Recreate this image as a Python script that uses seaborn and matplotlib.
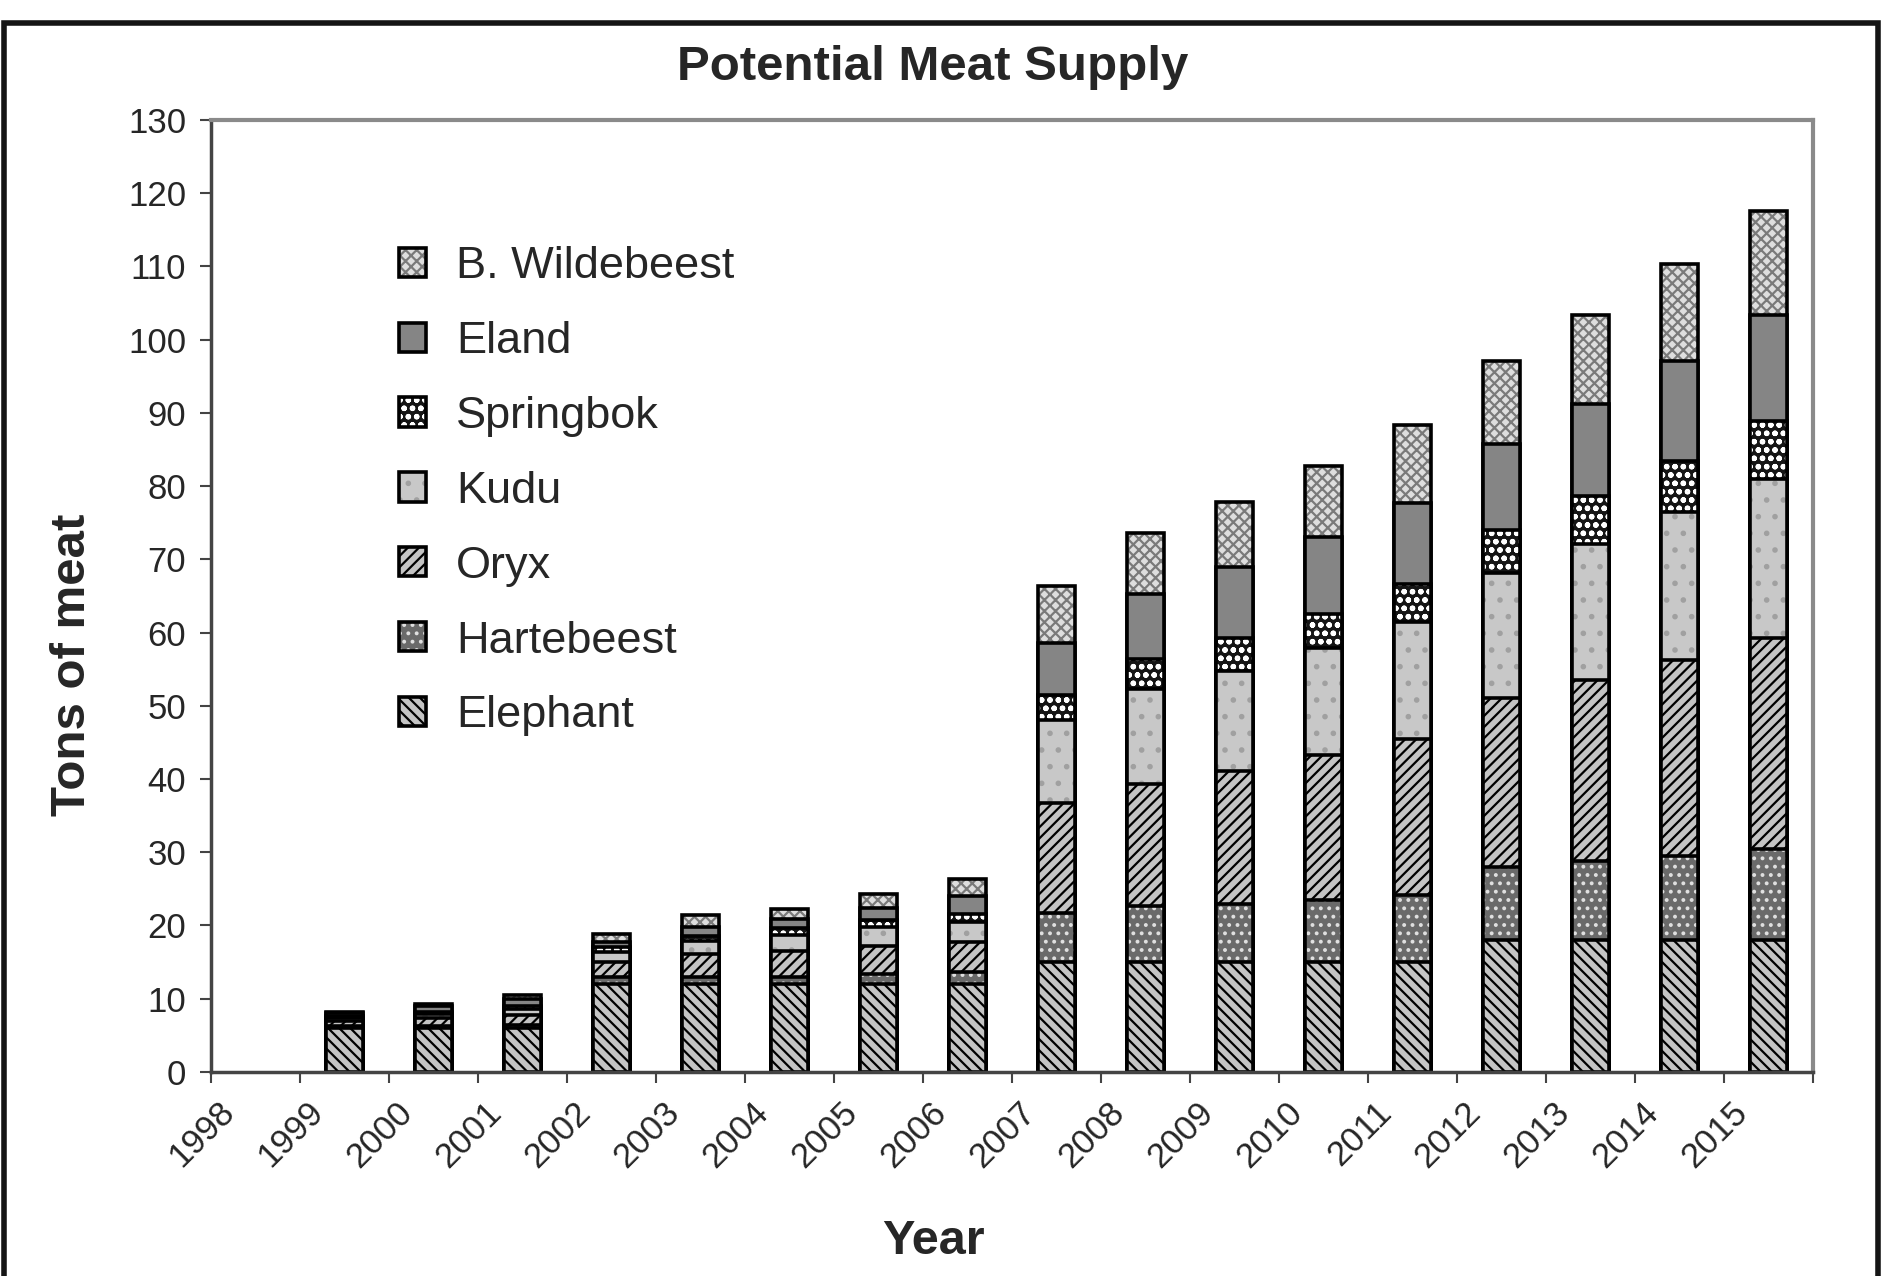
import matplotlib
matplotlib.use("Agg")
import matplotlib.pyplot as plt
import matplotlib.transforms as mtransforms
from matplotlib.patches import Rectangle
from matplotlib.colors import to_rgba
import numpy as np
import pandas as pd
import seaborn as sns

# tick labels sit on the tick marks, bars sit between them
tick_years = [str(y) for y in range(1998, 2016)]
years = [str(y) for y in range(1999, 2016)]

elephant   = [6, 6, 6, 12, 12, 12, 12, 12, 15, 15, 15, 15, 15, 18, 18, 18, 18]
hartebeest = [0.3, 0.3, 0.4, 0.9, 0.9, 0.9, 1.4, 1.6, 6.7, 7.7, 7.9, 8.5, 9.2, 10.0, 10.8, 11.5, 12.4]
oryx       = [0.7, 1.0, 1.4, 2.1, 3.2, 3.6, 3.8, 4.1, 15.0, 16.6, 18.2, 19.8, 21.2, 23.0, 24.7, 26.8, 28.8]
kudu       = [0.4, 0.6, 0.8, 1.4, 1.8, 2.2, 2.6, 2.8, 11.3, 13.0, 13.7, 14.6, 16.0, 17.1, 18.6, 20.1, 21.8]
springbok  = [0.2, 0.3, 0.4, 0.6, 0.7, 0.9, 1.0, 1.0, 3.5, 4.1, 4.4, 4.6, 5.2, 5.9, 6.6, 7.0, 7.9]
eland      = [0.4, 0.8, 1.0, 0.8, 1.2, 1.3, 1.6, 2.5, 7.1, 8.8, 9.7, 10.6, 11.1, 11.7, 12.5, 13.7, 14.4]
wildebeest = [0.2, 0.3, 0.5, 1.0, 1.6, 1.4, 1.9, 2.3, 7.7, 8.4, 8.9, 9.7, 10.7, 11.4, 12.1, 13.2, 14.2]

species = ["Elephant", "Hartebeest", "Oryx", "Kudu", "Springbok", "Eland", "B. Wildebeest"]

# face colour, hatch, hatch colour
styles = {
    "Elephant":      ("#c4c4c4", "\\\\\\", "black"),
    "Hartebeest":    ("#6a6a6a", "..", "#e0e0e0"),
    "Oryx":          ("#c4c4c4", "///", "black"),
    "Kudu":          ("#c8c8c8", ".", "#a0a0a0"),
    "Springbok":     ("#151515", "oo", "white"),
    "Eland":         ("#858585", "", "black"),
    "B. Wildebeest": ("#dedede", "xxx", "#7a7a7a"),
}

df = pd.DataFrame({"Year": years, "Elephant": elephant, "Hartebeest": hartebeest,
                   "Oryx": oryx, "Kudu": kudu, "Springbok": springbok,
                   "Eland": eland, "B. Wildebeest": wildebeest})
cum = df[species].cumsum(axis=1)

sns.set_style("ticks")
plt.rcParams["font.family"] = ["Liberation Sans", "DejaVu Sans"]
plt.rcParams["hatch.linewidth"] = 1.6

fig, ax = plt.subplots(figsize=(18.89, 12.76), dpi=100)
fig.subplots_adjust(left=0.1117, right=0.9598, top=0.906, bottom=0.160)

# draw tallest cumulative first, lower layers on top
for name in reversed(species):
    face, hatch, hcol = styles[name]
    sns.barplot(x=df["Year"], y=cum[name], order=tick_years, color=face,
                saturation=1, width=0.42, edgecolor="black", linewidth=2.6,
                hatch=hatch, errorbar=None, ax=ax)
    for p in ax.containers[-1]:
        p._hatch_color = to_rgba(hcol)

ax.set_xlim(-0.5, 17.5)
ax.set_ylim(0, 130)
ax.set_yticks(np.arange(0, 131, 10))
ax.tick_params(axis="y", labelsize=25, length=8, width=1.5, color="#444", pad=10)

ax.set_xticks(np.arange(-0.5, 18, 1.0))
ax.set_xticklabels(tick_years + [""], rotation=45, ha="right",
                   rotation_mode="anchor", fontsize=25)
ax.tick_params(axis="x", length=8, width=1.5, color="#444", pad=9)
offset = mtransforms.ScaledTranslation(0.07, 0, fig.dpi_scale_trans)
for lab in ax.get_xticklabels():
    lab.set_transform(lab.get_transform() + offset)

for side in ["left", "bottom"]:
    ax.spines[side].set_color("#444")
    ax.spines[side].set_linewidth(2.5)
for side in ["top", "right"]:
    ax.spines[side].set_visible(True)
    ax.spines[side].set_color("#8a8a8a")
    ax.spines[side].set_linewidth(3)

ax.set_xlabel("")
ax.set_ylabel("")
fig.text(0.0385, 0.479, "Tons of meat", rotation=90, ha="center", va="center",
         fontsize=35.5, fontweight="bold")
fig.text(0.494, 0.027, "Year", ha="center", va="center", fontsize=35, fontweight="bold")
fig.text(0.494, 0.947, "Potential Meat Supply", ha="center", va="center",
         fontsize=35.5, fontweight="bold")

handles = [c.patches[1] for c in ax.containers]
labels = list(reversed(species))
ax.legend(handles, labels, loc="upper left", bbox_to_anchor=(0.2114, 0.807),
          bbox_transform=fig.transFigure, frameon=False, fontsize=32.5,
          handlelength=0.6, handleheight=0.62, handletextpad=0.65,
          labelspacing=0.75, borderpad=0, borderaxespad=0)

fig.patches.append(Rectangle((0.002, -0.05), 0.992, 1.032, transform=fig.transFigure,
                             fill=False, edgecolor="#151515", linewidth=4))

fig.savefig("out.png", dpi=100)
